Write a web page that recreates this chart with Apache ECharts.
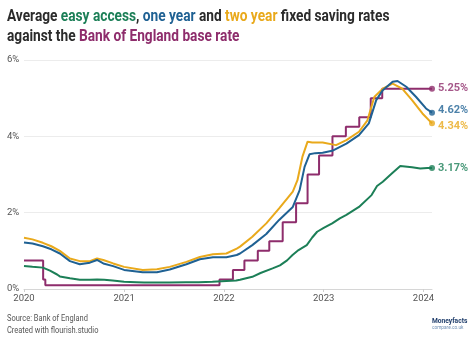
<!DOCTYPE html>
<html>
<head>
<meta charset="utf-8">
<script src="https://cdn.jsdelivr.net/npm/echarts@6/dist/echarts.min.js"></script>
<style>
html,body{margin:0;padding:0;background:#fff;}
#chart{width:474px;height:342px;}
</style>
</head>
<body>
<div id="chart"></div>
<script>
// ---- Data ----
const yearTicks = ['2020', '2021', '2022', '2023', '2024'];
const yTicks = [0, 2, 4, 6];

const bankRateDates = ['2020-01-01','2020-03-11','2020-03-19','2021-12-16','2022-02-03','2022-03-17','2022-05-05','2022-06-16','2022-08-04','2022-09-22','2022-11-03','2022-12-15','2023-02-02','2023-03-23','2023-05-11','2023-06-22','2023-08-03','2024-02-01'];
const bankRateValues = [0.75,0.25,0.10,0.25,0.50,0.75,1.00,1.25,1.75,2.25,3.00,3.50,4.00,4.25,4.50,5.00,5.25,5.25];

const easyDates = ['2020-01-01','2020-02-01','2020-03-10','2020-04-05','2020-05-01','2020-05-11','2020-06-17','2020-07-23','2020-08-29','2020-09-24','2020-10-20','2020-11-20','2021-01-01','2021-02-15','2021-03-15','2021-05-01','2021-06-15','2021-08-15','2021-10-01','2021-11-20','2022-01-10','2022-02-15','2022-03-01','2022-04-15','2022-05-15','2022-06-28','2022-07-25','2022-08-20','2022-09-09','2022-10-01','2022-10-31','2022-11-20','2022-12-08','2023-01-01','2023-02-01','2023-03-01','2023-03-25','2023-05-10','2023-06-25','2023-07-15','2023-08-05','2023-09-08','2023-10-08','2023-11-20','2023-12-20','2024-01-15','2024-02-01'];
const easyValues = [0.60,0.58,0.56,0.48,0.38,0.33,0.28,0.24,0.24,0.25,0.24,0.22,0.19,0.18,0.17,0.17,0.17,0.18,0.18,0.19,0.21,0.22,0.24,0.32,0.42,0.54,0.62,0.75,0.89,1.02,1.15,1.35,1.50,1.60,1.72,1.85,1.94,2.15,2.46,2.70,2.81,3.03,3.22,3.19,3.16,3.17,3.17];

const oneYearDates = ['2020-01-01','2020-02-01','2020-03-10','2020-04-10','2020-05-11','2020-06-17','2020-07-23','2020-08-29','2020-09-24','2020-10-17','2020-11-22','2021-01-01','2021-03-10','2021-05-01','2021-06-17','2021-08-17','2021-10-05','2021-11-22','2022-01-10','2022-02-17','2022-03-01','2022-04-15','2022-06-05','2022-07-22','2022-09-10','2022-10-05','2022-10-23','2022-11-10','2022-12-01','2022-12-28','2023-02-01','2023-03-25','2023-05-10','2023-06-15','2023-07-12','2023-08-05','2023-09-10','2023-09-28','2023-10-30','2023-12-05','2024-01-10','2024-02-01'];
const oneYearValues = [1.22,1.19,1.12,1.04,0.93,0.73,0.65,0.69,0.76,0.67,0.60,0.50,0.44,0.44,0.51,0.65,0.78,0.83,0.83,0.89,0.93,1.15,1.44,1.81,2.15,2.59,3.20,3.53,3.56,3.57,3.62,3.81,4.03,4.34,4.95,5.21,5.43,5.45,5.30,5.03,4.73,4.62];

const twoYearDates = ['2020-01-01','2020-02-01','2020-03-10','2020-04-10','2020-05-11','2020-06-17','2020-07-23','2020-08-29','2020-09-24','2020-10-17','2020-11-22','2021-01-01','2021-03-10','2021-05-01','2021-06-17','2021-08-17','2021-10-05','2021-11-22','2022-01-10','2022-02-17','2022-03-01','2022-04-15','2022-06-05','2022-07-22','2022-09-10','2022-09-27','2022-10-15','2022-11-03','2022-11-20','2022-12-28','2023-02-15','2023-03-25','2023-05-10','2023-06-10','2023-07-05','2023-08-05','2023-09-10','2023-10-15','2023-11-20','2023-12-28','2024-02-01'];
const twoYearValues = [1.34,1.30,1.21,1.12,1.00,0.80,0.73,0.73,0.80,0.76,0.67,0.58,0.50,0.52,0.58,0.71,0.84,0.91,0.93,1.06,1.11,1.37,1.72,2.11,2.55,2.85,3.46,3.86,3.84,3.84,3.77,3.90,4.12,4.42,5.03,5.25,5.38,5.25,4.95,4.60,4.34];

const colors = { easy: '#1c7f57', one: '#1f6193', two: '#e9a91b', bank: '#8e2d6c' };

// ---- Build options ----
const ts = s => Date.parse(s.length === 4 ? s + '-01-01T00:00:00Z' : s + 'T00:00:00Z');
const zip = (d, v) => d.map((x, i) => [ts(x), v[i]]);
const last = (d, v) => [[ts(d[d.length - 1]), v[v.length - 1]]];
const yearTs = yearTicks.map(ts);

function lineSeries(name, dates, values, color, extra) {
  return Object.assign({
    name, type: 'line', data: zip(dates, values), symbol: 'none',
    lineStyle: { width: 2, color }, itemStyle: { color }, animation: false, z: 2
  }, extra || {});
}
function endPoint(name, dates, values, color, offsetY) {
  return {
    name: name + ' end', type: 'scatter', data: last(dates, values), symbol: 'circle', symbolSize: 6,
    itemStyle: { color }, animation: false, z: 5,
    label: {
      show: true, position: 'right', distance: 3, offset: [0, offsetY],
      formatter: p => p.value[1].toFixed(2) + '%',
      color, fontFamily: 'Roboto', fontWeight: 'bold', fontSize: 11
    }
  };
}

const chart = echarts.init(document.getElementById('chart'), null, { renderer: 'canvas' });
chart.setOption({
  backgroundColor: '#fff',
  animation: false,
  textStyle: { fontFamily: 'Roboto' },
  grid: { left: 24, right: 42, top: 60, bottom: 53, containLabel: false },
  xAxis: {
    type: 'value', min: ts('2020-01-01'), max: ts(bankRateDates[bankRateDates.length - 1]),
    axisLine: { show: true, onZero: false, lineStyle: { color: '#d6d6d6', width: 1 } },
    axisTick: { show: true, length: 3, lineStyle: { color: '#cfcfcf' }, customValues: yearTs },
    axisLabel: {
      customValues: yearTs, color: '#555', fontSize: 9.5, margin: 5,
      formatter: v => String(new Date(v).getUTCFullYear())
    },
    splitLine: { show: false }
  },
  yAxis: {
    type: 'value', min: 0, max: 6, interval: 2,
    axisLine: { show: false }, axisTick: { show: false },
    axisLabel: { align: 'left', margin: 17, color: '#555', fontSize: 9.5, formatter: v => v + '%' },
    splitLine: { lineStyle: { color: '#ececec', width: 1 } }
  },
  series: [
    lineSeries('Bank rate', bankRateDates, bankRateValues, colors.bank, { step: 'end', z: 1 }),
    lineSeries('Easy access', easyDates, easyValues, colors.easy),
    lineSeries('Two year', twoYearDates, twoYearValues, colors.two),
    lineSeries('One year', oneYearDates, oneYearValues, colors.one),
    endPoint('Bank rate', bankRateDates, bankRateValues, colors.bank, 0),
    endPoint('Easy access', easyDates, easyValues, colors.easy, 0),
    endPoint('One year', oneYearDates, oneYearValues, colors.one, -2),
    endPoint('Two year', twoYearDates, twoYearValues, colors.two, 3)
  ],
  graphic: [
    {
      type: 'text', x: 7, y: 8, scaleX: 0.83, silent: true,
      style: {
        text: 'Average {g|easy access}, {b|one year} and {y|two year} fixed saving rates',
        fill: '#2b2b2b', font: 'bold 16.5px Roboto',
        rich: {
          g: { fill: colors.easy, font: 'bold 16.5px Roboto' },
          b: { fill: colors.one, font: 'bold 16.5px Roboto' },
          y: { fill: colors.two, font: 'bold 16.5px Roboto' }
        }
      }
    },
    {
      type: 'text', x: 7, y: 28, scaleX: 0.83, silent: true,
      style: {
        text: 'against the {p|Bank of England base rate}',
        fill: '#2b2b2b', font: 'bold 16.5px Roboto',
        rich: { p: { fill: colors.bank, font: 'bold 16.5px Roboto' } }
      }
    },
    { type: 'text', x: 7, y: 314, scaleX: 0.88, silent: true,
      style: { text: 'Source: Bank of England', fill: '#555', font: '8.5px Roboto' } },
    { type: 'text', x: 7, y: 326, scaleX: 0.88, silent: true,
      style: { text: 'Created with flourish.studio', fill: '#555', font: '8.5px Roboto' } },
    { type: 'text', x: 432, y: 318, scaleX: 0.95, silent: true,
      style: { text: 'Moneyfacts', fill: '#1f3d6b', font: 'bold 7px Roboto' } },
    { type: 'text', x: 432, y: 325.5, scaleX: 0.95, silent: true,
      style: { text: 'compare.co.uk', fill: '#6f8fb5', font: '5px Roboto' } }
  ]
});
</script>
</body>
</html>
